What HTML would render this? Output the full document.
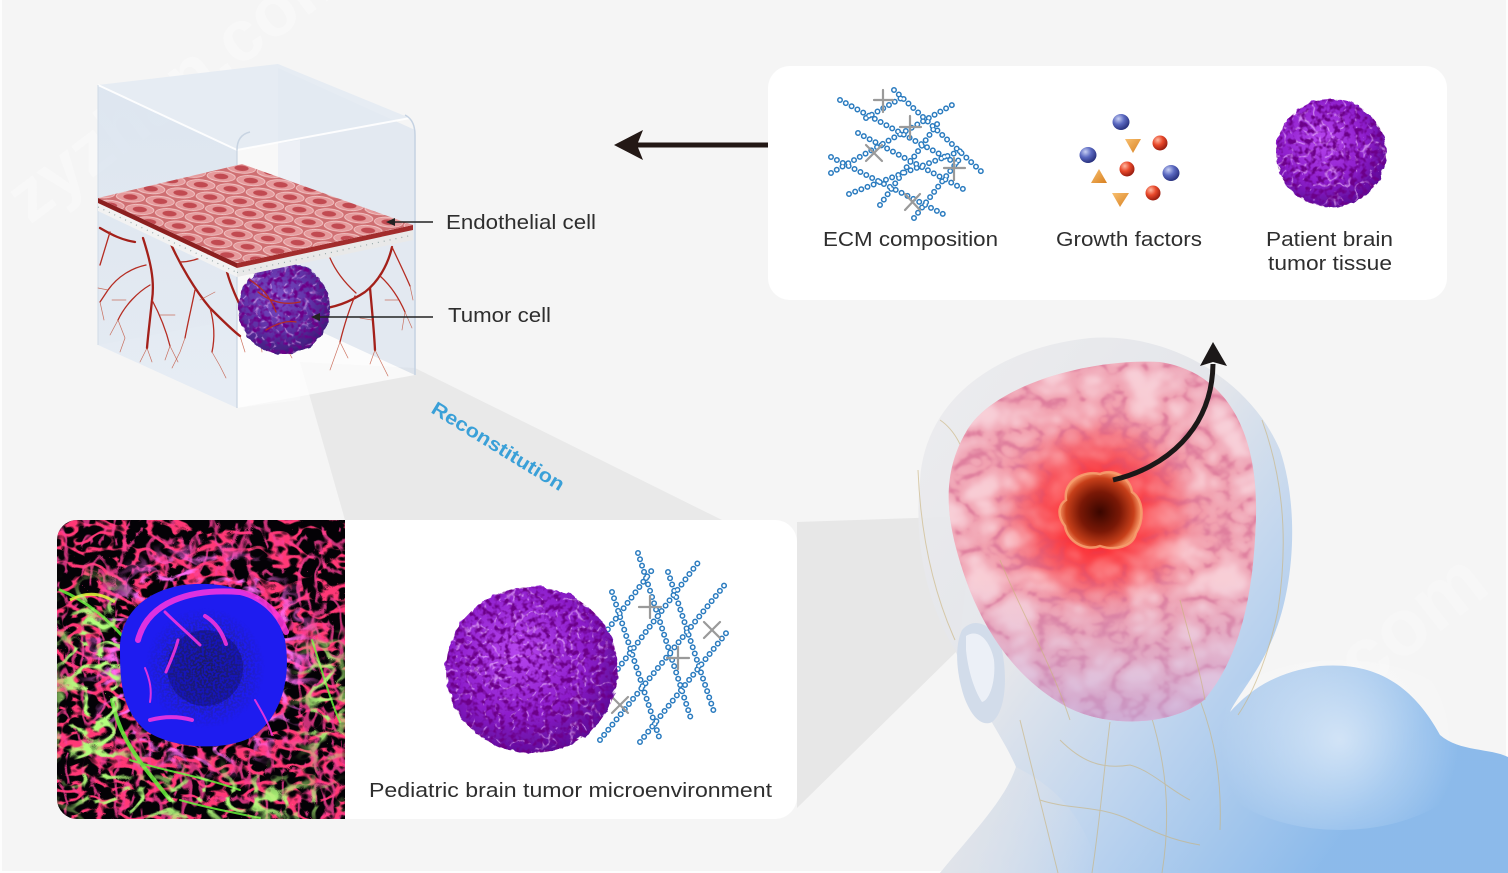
<!DOCTYPE html>
<html><head><meta charset="utf-8">
<style>
html,body{margin:0;padding:0;background:#fff;}
svg{display:block;}
.t{font-family:"Liberation Sans",Arial,sans-serif;fill:#2e2e2e;font-size:20px;}
.c1{fill:none;stroke:#2a7bbf;stroke-width:6;stroke-dasharray:0 6.6;stroke-linecap:round;}
.c2{fill:none;stroke:#fff;stroke-width:3;stroke-dasharray:0 6.6;stroke-linecap:round;}
.xl{stroke:#9a9a9a;stroke-width:2.2;stroke-linecap:round;fill:none;}
.v1{fill:none;stroke:#a3201a;stroke-width:2.3;stroke-linecap:round;}
.v2{fill:none;stroke:#b52c22;stroke-width:1.3;stroke-linecap:round;}
.v3{fill:none;stroke:#c0503a;stroke-width:.7;stroke-linecap:round;opacity:.8;}
.nv{fill:none;stroke:#c9b27a;stroke-width:1;opacity:.6;}
.gf{fill:none;stroke:#66f23a;stroke-linecap:round;}
.mg{fill:none;stroke:#ff36de;stroke-linecap:round;}
</style></head>
<body>
<svg width="1508" height="873" viewBox="0 0 1508 873" xmlns="http://www.w3.org/2000/svg">
<defs>
  <clipPath id="fclip"><path d="M77,520 H345 V819 H77 A20,20 0 0 1 57,799 V540 A20,20 0 0 1 77,520 Z"/></clipPath>
  <filter id="fRed" filterUnits="userSpaceOnUse" x="57" y="520" width="288" height="300">
    <feTurbulence type="turbulence" baseFrequency="0.04 0.06" numOctaves="2" seed="7"/>
    <feColorMatrix type="matrix" values="0 0 0 0 1  0 0 0 0 0.04  0 0 0 0 0.18  -9 0 0 0 1.8"/>
  </filter>
  <filter id="fRed2" filterUnits="userSpaceOnUse" x="57" y="520" width="288" height="300">
    <feTurbulence type="turbulence" baseFrequency="0.06 0.035" numOctaves="2" seed="17"/>
    <feColorMatrix type="matrix" values="0 0 0 0 0.95  0 0 0 0 0.05  0 0 0 0 0.3  -10 0 0 0 1.65"/>
  </filter>
  <filter id="fMag" filterUnits="userSpaceOnUse" x="57" y="520" width="288" height="300">
    <feTurbulence type="turbulence" baseFrequency="0.035 0.05" numOctaves="2" seed="13"/>
    <feColorMatrix type="matrix" values="0 0 0 0 1  0 0 0 0 0.15  0 0 0 0 0.9  -8 0 0 0 1.6"/>
  </filter>
  <filter id="fGrn" filterUnits="userSpaceOnUse" x="57" y="520" width="288" height="300">
    <feTurbulence type="turbulence" baseFrequency="0.035 0.045" numOctaves="2" seed="3"/>
    <feColorMatrix type="matrix" values="0 0 0 0 0.45  0 0 0 0 1  0 0 0 0 0.2  -9 0 0 0 1.6"/>
  </filter>
  <filter id="fSpk" filterUnits="userSpaceOnUse" x="140" y="600" width="140" height="140">
    <feTurbulence type="fractalNoise" baseFrequency="0.45" numOctaves="1" seed="4"/>
    <feColorMatrix type="matrix" values="0 0 0 0 0.02  0 0 0 0 0.02  0 0 0 0 0.15  7 0 0 0 -3"/>
  </filter>
  <filter id="blur6"><feGaussianBlur stdDeviation="12"/></filter>
  <radialGradient id="ringG" cx="201" cy="660" r="125" gradientUnits="userSpaceOnUse">
    <stop offset="0" stop-color="#000"/><stop offset="0.6" stop-color="#000"/>
    <stop offset="0.7" stop-color="#fff"/><stop offset="0.85" stop-color="#888"/><stop offset="1" stop-color="#000"/>
  </radialGradient>
  <mask id="ringM" maskUnits="userSpaceOnUse" x="57" y="520" width="288" height="300"><rect x="57" y="520" width="288" height="300" fill="url(#ringG)"/></mask>
  <mask id="grnM" maskUnits="userSpaceOnUse" x="0" y="480" width="400" height="380">
    <g filter="url(#blur6)" fill="#fff">
      <ellipse cx="95" cy="690" rx="40" ry="110"/>
      <ellipse cx="200" cy="800" rx="140" ry="25"/>
      <ellipse cx="325" cy="700" rx="22" ry="65"/>
    </g>
  </mask>
  <radialGradient id="spkG" cx="205" cy="668" r="60" gradientUnits="userSpaceOnUse">
    <stop offset="0" stop-color="#fff"/><stop offset="0.6" stop-color="#888"/><stop offset="1" stop-color="#000"/>
  </radialGradient>
  <mask id="spkM" maskUnits="userSpaceOnUse" x="140" y="600" width="140" height="140"><rect x="140" y="600" width="140" height="140" fill="url(#spkG)"/></mask>

  <radialGradient id="purp" cx="0.42" cy="0.38" r="0.65">
    <stop offset="0" stop-color="#b646ee"/><stop offset="0.6" stop-color="#8e1fcc"/><stop offset="1" stop-color="#5c0a96"/>
  </radialGradient>
  <radialGradient id="purpB" cx="0.42" cy="0.38" r="0.65">
    <stop offset="0" stop-color="#7a4cc4"/><stop offset="0.6" stop-color="#5e30a4"/><stop offset="1" stop-color="#3c1a78"/>
  </radialGradient>
  <filter id="rough" x="-10%" y="-10%" width="120%" height="120%">
    <feTurbulence type="fractalNoise" baseFrequency="0.12" numOctaves="2" seed="2" result="n"/>
    <feDisplacementMap in="SourceGraphic" in2="n" scale="7" xChannelSelector="R" yChannelSelector="G"/>
  </filter>
  <filter id="purTex" x="0" y="0" width="1" height="1">
    <feTurbulence type="turbulence" baseFrequency="0.07" numOctaves="2" seed="9"/>
    <feColorMatrix type="matrix" values="0 0 0 0 0.9  0 0 0 0 0.55  0 0 0 0 1  -9 0 0 0 1.2"/>
  </filter>
  <filter id="purDk" x="0" y="0" width="1" height="1">
    <feTurbulence type="fractalNoise" baseFrequency="0.18" numOctaves="2" seed="5"/>
    <feColorMatrix type="matrix" values="0 0 0 0 0.15  0 0 0 0 0  0 0 0 0 0.25  4 0 0 0 -1.8"/>
  </filter>
  <clipPath id="tc1"><ellipse cx="1331" cy="153" rx="55" ry="54"/></clipPath>
  <clipPath id="tc2"><ellipse cx="532" cy="670" rx="86" ry="83"/></clipPath>
  <clipPath id="tc3"><ellipse cx="284" cy="308" rx="46" ry="46"/></clipPath>

  <clipPath id="brainC"><path d="M966,432 C992,385 1090,358 1160,362 C1225,372 1258,430 1256,515 C1254,600 1238,660 1204,700 C1170,727 1102,729 1060,703 C1010,673 978,622 960,562 C944,510 944,470 966,432 Z"/></clipPath>
  <radialGradient id="brainG" cx="1098" cy="515" r="220" gradientUnits="userSpaceOnUse">
    <stop offset="0" stop-color="#ff4a50"/><stop offset="0.25" stop-color="#f4707e"/>
    <stop offset="0.5" stop-color="#f2a0ae"/><stop offset="1" stop-color="#ecb0c4"/>
  </radialGradient>
  <filter id="gyri" filterUnits="userSpaceOnUse" x="940" y="350" width="320" height="380">
    <feTurbulence type="turbulence" baseFrequency="0.024 0.03" numOctaves="3" seed="21"/>
    <feColorMatrix type="matrix" values="0 0 0 0 0.68  0 0 0 0 0.16  0 0 0 0 0.3  -8 0 0 0 1.5"/>
    <feGaussianBlur stdDeviation="0.8"/>
  </filter>
  <filter id="gyriH" filterUnits="userSpaceOnUse" x="940" y="350" width="320" height="380">
    <feTurbulence type="turbulence" baseFrequency="0.024 0.03" numOctaves="3" seed="21"/>
    <feColorMatrix type="matrix" values="0 0 0 0 1  0 0 0 0 0.93  0 0 0 0 0.94  3 0 0 0 -0.6"/>
    <feGaussianBlur stdDeviation="2"/>
  </filter>
  <radialGradient id="glow" cx="1098" cy="515" r="95" gradientUnits="userSpaceOnUse">
    <stop offset="0" stop-color="#ff0000" stop-opacity="0.95"/><stop offset="0.45" stop-color="#ff1010" stop-opacity="0.5"/>
    <stop offset="1" stop-color="#ff2020" stop-opacity="0"/>
  </radialGradient>
  <linearGradient id="brainBot" x1="0" y1="0" x2="0" y2="1">
    <stop offset="0.6" stop-color="#c8b0e0" stop-opacity="0"/><stop offset="1" stop-color="#b8a8e0" stop-opacity="0.6"/>
  </linearGradient>
  <radialGradient id="tumG" cx="1100" cy="512" r="40" gradientUnits="userSpaceOnUse">
    <stop offset="0" stop-color="#3a0600"/><stop offset="0.5" stop-color="#7a1806"/><stop offset="0.85" stop-color="#c8401a"/><stop offset="1" stop-color="#f08a5a"/>
  </radialGradient>

  <linearGradient id="headG" x1="900" y1="400" x2="1400" y2="760" gradientUnits="userSpaceOnUse">
    <stop offset="0" stop-color="#ececee"/><stop offset="0.4" stop-color="#e3e5ea"/>
    <stop offset="0.65" stop-color="#bcd3ee"/><stop offset="1" stop-color="#86b7ea"/>
  </linearGradient>
  <radialGradient id="shHi" cx="1340" cy="740" r="120" gradientUnits="userSpaceOnUse">
    <stop offset="0" stop-color="#fff" stop-opacity="0.55"/><stop offset="1" stop-color="#fff" stop-opacity="0"/>
  </radialGradient>
  <linearGradient id="neckL" x1="940" y1="0" x2="1100" y2="0" gradientUnits="userSpaceOnUse">
    <stop offset="0" stop-color="#e4e5e9"/><stop offset="1" stop-color="#e4e5e9" stop-opacity="0"/>
  </linearGradient>

  <pattern id="cells" patternUnits="userSpaceOnUse" width="30" height="22" patternTransform="translate(98,198) rotate(8) skewX(-20)">
    <rect width="30" height="22" fill="#cf6f72"/>
    <ellipse cx="15" cy="5.5" rx="14" ry="5" fill="#e59a9c" stroke="#f4caca" stroke-width="0.8"/>
    <ellipse cx="15" cy="5.5" rx="7" ry="2.8" fill="#b8363f" opacity="0.8"/>
    <ellipse cx="0" cy="16.5" rx="14" ry="5" fill="#e59a9c" stroke="#f4caca" stroke-width="0.8"/>
    <ellipse cx="30" cy="16.5" rx="14" ry="5" fill="#e59a9c" stroke="#f4caca" stroke-width="0.8"/>
    <ellipse cx="0" cy="16.5" rx="7" ry="2.8" fill="#b8363f" opacity="0.8"/>
    <ellipse cx="30" cy="16.5" rx="7" ry="2.8" fill="#b8363f" opacity="0.8"/>
  </pattern>
  <linearGradient id="glassL" x1="0" y1="0" x2="0" y2="1">
    <stop offset="0" stop-color="#d9e3ef" stop-opacity="0.85"/><stop offset="1" stop-color="#dfe7f1" stop-opacity="0.75"/>
  </linearGradient>

  <g id="ecmTop">
    <line x1="840" y1="100" x2="956" y2="163"/>
    <line x1="894" y1="90" x2="985" y2="175"/>
    <line x1="858" y1="133" x2="965" y2="190"/>
    <line x1="831" y1="157" x2="943" y2="214"/>
    <line x1="831" y1="173" x2="952" y2="105"/>
    <line x1="849" y1="194" x2="963" y2="150"/>
    <line x1="914" y1="218" x2="961" y2="157"/>
    <line x1="866" y1="118" x2="905" y2="96"/>
    <line x1="880" y1="205" x2="940" y2="120"/>
  </g>
  <g id="ecmBot">
    <line x1="638" y1="553" x2="692" y2="722"/>
    <line x1="612" y1="592" x2="660" y2="740"/>
    <line x1="668" y1="572" x2="714" y2="712"/>
    <line x1="600" y1="740" x2="727" y2="582"/>
    <line x1="640" y1="742" x2="727" y2="632"/>
    <line x1="602" y1="690" x2="700" y2="560"/>
    <line x1="600" y1="640" x2="655" y2="566"/>
  </g>
</defs>

<rect x="0" y="0" width="1508" height="873" fill="#fdfdfd"/>
<rect x="2" y="0" width="1504" height="871" fill="#f5f5f5"/>

<text x="0" y="0" transform="translate(30,225) rotate(-37)" font-family="Liberation Sans,Arial,sans-serif" font-size="72" font-weight="bold" fill="#ffffff" opacity="0.35">zyzhan.com</text>
<text x="0" y="0" transform="translate(1135,870) rotate(-38)" font-family="Liberation Sans,Arial,sans-serif" font-size="80" font-weight="bold" fill="#ffffff" opacity="0.25">zyzhan.com</text>

<polygon points="300,362 415,368 722,520 345,520" fill="#e9e9e9"/>
<polygon points="797,522 975,516 958,650 797,808" fill="#e7e7e7"/>

<!-- Cube -->
<polygon points="278,68 415,130 415,375 278,312" fill="#d4dfec" opacity="0.55"/>
<polygon points="98,345 237,408 415,375 278,312" fill="#ffffff" opacity="0.7"/>
<polygon points="98,85 237,150 237,408 98,345" fill="url(#glassL)"/>
<polygon points="237,150 300,140 300,400 237,408" fill="#ffffff" opacity="0.35"/>
<polygon points="98,85 278,64 410,118 237,150" fill="#e3eaf2" opacity="0.85"/>
<path d="M98,85 L237,150 L410,118" fill="none" stroke="#ffffff" stroke-width="2" opacity="0.9"/>
<path d="M237,150 Q237,135 250,132" fill="none" stroke="#c8d4e2" stroke-width="1.5"/>
<path d="M405,115 Q415,120 415,135 L415,375" fill="none" stroke="#c5d2e2" stroke-width="1.5"/>
<line x1="237" y1="150" x2="237" y2="408" stroke="#c8d3e0" stroke-width="1.2"/>
<line x1="98" y1="85" x2="98" y2="345" stroke="#d0dae6" stroke-width="1"/>

<g>
  <path class="v1" d="M143,238 C150,260 155,280 152,300 C150,320 148,335 147,348"/>
  <path class="v1" d="M170,242 C180,265 195,290 210,308 C222,320 232,330 240,336"/>
  <path class="v1" d="M100,228 C112,235 122,240 135,242"/>
  <path class="v1" d="M227,272 C232,290 240,305 248,322 C258,335 270,340 285,345"/>
  <path class="v1" d="M392,247 C388,265 378,282 365,292 C350,302 335,308 313,310"/>
  <path class="v1" d="M370,288 C372,310 374,330 375,350"/>
  <path class="v1" d="M300,268 C295,285 285,300 270,312"/>
  <path class="v2" d="M150,285 C138,292 125,305 118,320"/>
  <path class="v2" d="M152,300 C160,315 166,330 170,346"/>
  <path class="v2" d="M146,265 C132,268 118,276 108,290 L100,302"/>
  <path class="v2" d="M195,290 C192,305 188,322 185,338"/>
  <path class="v2" d="M210,308 C214,322 215,338 212,352"/>
  <path class="v2" d="M180,262 C192,262 202,258 212,252"/>
  <path class="v2" d="M110,232 C106,245 103,255 100,265"/>
  <path class="v2" d="M355,296 C348,312 344,326 340,342"/>
  <path class="v2" d="M380,276 C390,285 398,296 405,312"/>
  <path class="v2" d="M392,247 C398,260 404,272 410,286"/>
  <path class="v2" d="M330,258 C336,272 345,283 356,293"/>
  <path class="v3" d="M118,320 L110,335 M118,320 L125,338 M100,302 L104,320 M170,346 L165,360 M170,346 L178,362 M185,338 L180,352 M212,352 L220,366 M147,348 L140,362 M147,348 L152,362 M240,336 L245,352 M340,342 L335,356 M340,342 L348,358 M375,350 L370,364 M375,350 L382,364 M405,312 L402,330 M405,312 L412,328 M410,286 L413,300 M126,300 L112,300 M160,315 L175,315 M200,300 L215,292 M360,318 L372,320 M385,300 L398,300 M108,290 L98,288 M260,338 L262,352 M285,345 L292,358 M125,338 L120,352 M180,352 L172,368 M220,366 L226,378 M335,356 L330,370 M382,364 L388,376"/>
</g>

<g filter="url(#rough)"><ellipse cx="284" cy="308" rx="46" ry="46" fill="url(#purpB)"/></g>
<g clip-path="url(#tc3)" opacity="0.55"><rect x="236" y="260" width="96" height="96" filter="url(#purTex)"/></g>
<g clip-path="url(#tc3)"><rect x="236" y="260" width="96" height="96" filter="url(#purDk)"/></g>
<path class="v2" d="M258,292 C268,300 282,306 300,302 M266,330 C276,324 286,320 296,322 M250,280 C262,288 270,296 276,312"/>

<polygon points="98,203 237,268 237,277 98,211" fill="#f2f2f2"/>
<polygon points="237,268 413,230 413,240 237,277" fill="#e9e9e9"/>
<line x1="98" y1="207" x2="237" y2="272.5" stroke="#9aa" stroke-width="1.2" stroke-dasharray="1 5"/>
<line x1="237" y1="272.5" x2="413" y2="235" stroke="#9aa" stroke-width="1.2" stroke-dasharray="1 5"/>
<polygon points="98,198 237,263 237,268 98,203" fill="#8c1f1f"/>
<polygon points="237,263 413,225 413,230 237,268" fill="#a22c2c"/>
<polygon points="98,198 242,164 413,225 237,263" fill="url(#cells)"/>

<line x1="392" y1="222" x2="433" y2="222" stroke="#222" stroke-width="1.6"/>
<polygon points="386,222 395,218 395,226" fill="#222"/>
<line x1="318" y1="317" x2="433" y2="317" stroke="#222" stroke-width="1.6"/>
<polygon points="311,317 320,313 320,321" fill="#222"/>
<text class="t" x="446" y="229" textLength="150" lengthAdjust="spacingAndGlyphs">Endothelial cell</text>
<text class="t" x="448" y="322" textLength="103" lengthAdjust="spacingAndGlyphs">Tumor cell</text>

<text x="0" y="0" transform="translate(430,412) rotate(31.5)" font-family="Liberation Sans,Arial,sans-serif" font-size="19" font-weight="bold" fill="#3aa0d8" textLength="152" lengthAdjust="spacingAndGlyphs">Reconstitution</text>

<line x1="636" y1="145" x2="768" y2="145" stroke="#231815" stroke-width="5"/>
<polygon points="614,145 643,130 637,145 643,160" fill="#231815"/>

<!-- Top card -->
<rect x="768" y="66" width="679" height="234" rx="22" fill="#ffffff"/>
<use href="#ecmTop" class="c1"/>
<use href="#ecmTop" class="c2"/>
<g class="xl">
  <path d="M883,90 L883,112 M874,100 L893,100"/>
  <path d="M910,116 L910,138 M900,127 L921,127"/>
  <path d="M866,145 L882,161 M882,145 L866,161"/>
  <path d="M954,158 L954,180 M944,168 L965,168"/>
  <path d="M905,194 L920,210 M920,194 L905,210"/>
</g>
<defs>
  <radialGradient id="bb" cx="0.35" cy="0.3" r="0.7"><stop offset="0" stop-color="#c8d0f4"/><stop offset="0.5" stop-color="#5a68c0"/><stop offset="1" stop-color="#2a3380"/></radialGradient>
  <radialGradient id="rb" cx="0.35" cy="0.3" r="0.7"><stop offset="0" stop-color="#ffb8a0"/><stop offset="0.5" stop-color="#e8482a"/><stop offset="1" stop-color="#9a1e10"/></radialGradient>
  <linearGradient id="ob" x1="0" y1="0" x2="1" y2="1"><stop offset="0" stop-color="#f8c070"/><stop offset="1" stop-color="#d88020"/></linearGradient>
</defs>
<ellipse cx="1121" cy="122" rx="8.5" ry="8" fill="url(#bb)"/>
<ellipse cx="1088" cy="155" rx="8.5" ry="8" fill="url(#bb)"/>
<ellipse cx="1171" cy="173" rx="8.5" ry="8" fill="url(#bb)"/>
<ellipse cx="1160" cy="143" rx="7.5" ry="7.5" fill="url(#rb)"/>
<ellipse cx="1127" cy="169" rx="7.5" ry="7.5" fill="url(#rb)"/>
<ellipse cx="1153" cy="193" rx="7.5" ry="7.5" fill="url(#rb)"/>
<polygon points="1125,139 1141,139 1133,153" fill="url(#ob)"/>
<polygon points="1099,169 1091,183 1107,183" fill="url(#ob)"/>
<polygon points="1112,193 1129,193 1120,207" fill="url(#ob)"/>
<g filter="url(#rough)"><ellipse cx="1331" cy="153" rx="55" ry="54" fill="url(#purp)"/></g>
<g clip-path="url(#tc1)" opacity="0.6"><rect x="1274" y="97" width="114" height="112" filter="url(#purTex)"/></g>
<g clip-path="url(#tc1)"><rect x="1274" y="97" width="114" height="112" filter="url(#purDk)"/></g>
<text class="t" x="823" y="246" textLength="175" lengthAdjust="spacingAndGlyphs">ECM composition</text>
<text class="t" x="1056" y="246" textLength="146" lengthAdjust="spacingAndGlyphs">Growth factors</text>
<text class="t" x="1266" y="246" textLength="127" lengthAdjust="spacingAndGlyphs">Patient brain</text>
<text class="t" x="1268" y="270" textLength="124" lengthAdjust="spacingAndGlyphs">tumor tissue</text>

<!-- Bottom card -->
<rect x="57" y="520" width="740" height="299" rx="22" fill="#ffffff"/>
<g clip-path="url(#fclip)">
  <rect x="57" y="520" width="288" height="300" fill="#040206"/>
  <rect x="57" y="520" width="288" height="300" filter="url(#fRed)"/>
  <rect x="57" y="520" width="288" height="300" filter="url(#fRed2)" opacity="0.8"/>
  <rect x="57" y="520" width="288" height="300" filter="url(#fMag)" mask="url(#ringM)"/>
  <g opacity="0.85">
    <path class="gf" stroke-width="3" d="M60,590 C85,600 110,620 130,645"/>
    <path class="gf" stroke-width="4" d="M112,700 C120,740 140,762 170,800"/>
    <path class="gf" stroke-width="2" d="M130,760 C160,770 200,776 240,790"/>
    <path class="gf" stroke-width="2" d="M312,640 C322,670 330,700 340,722"/>
    <path class="gf" stroke-width="2" d="M180,800 C200,806 230,812 260,818"/>
    <path fill="none" stroke="#e6ff3a" stroke-width="3" d="M70,600 C85,592 100,592 115,602"/>
  </g>
  <rect x="57" y="520" width="288" height="300" filter="url(#fGrn)" mask="url(#grnM)"/>
  <path d="M120,652 C118,612 150,586 195,584 C240,582 275,600 285,640 C292,680 280,720 250,738 C220,752 170,748 145,730 C125,712 120,690 120,652 Z" fill="#1e1cf0"/>
  <rect x="140" y="600" width="140" height="140" filter="url(#fSpk)" mask="url(#spkM)"/>
  <circle cx="205" cy="668" r="38" fill="#05063a" opacity="0.3"/>
  <g opacity="0.85">
    <path class="mg" stroke-width="6" d="M138,640 C148,602 190,588 240,592 C262,597 278,612 286,632"/>
    <path class="mg" stroke-width="3" d="M165,612 C178,625 190,635 200,645"/>
    <path class="mg" stroke-width="4" d="M205,616 C215,622 222,632 226,644"/>
    <path class="mg" stroke-width="4" d="M150,720 C165,716 178,716 192,720"/>
    <path class="mg" stroke-width="3" d="M178,640 C175,652 170,662 166,672"/>
    <path class="mg" stroke-width="2" d="M255,700 C262,712 268,722 272,735"/>
    <path class="mg" stroke-width="2" d="M145,668 C150,680 152,690 150,702"/>
  </g>
</g>
<use href="#ecmBot" class="c1"/>
<use href="#ecmBot" class="c2"/>
<g class="xl">
  <path d="M650,596 L650,618 M639,607 L661,607"/>
  <path d="M704,622 L720,638 M720,622 L704,638"/>
  <path d="M678,647 L678,669 M667,658 L689,658"/>
  <path d="M612,697 L628,713 M628,697 L612,713"/>
</g>
<g filter="url(#rough)"><ellipse cx="532" cy="670" rx="86" ry="83" fill="url(#purp)"/></g>
<g clip-path="url(#tc2)" opacity="0.6"><rect x="444" y="585" width="176" height="170" filter="url(#purTex)"/></g>
<g clip-path="url(#tc2)"><rect x="444" y="585" width="176" height="170" filter="url(#purDk)"/></g>
<text class="t" x="369" y="797" textLength="403" lengthAdjust="spacingAndGlyphs">Pediatric brain tumor microenvironment</text>

<!-- Head -->
<path d="M920,480 C925,400 995,348 1090,338 C1170,332 1250,380 1280,450 C1300,510 1294,590 1272,640 C1257,675 1238,695 1230,712 C1250,690 1275,672 1320,666 C1370,662 1410,680 1440,735 C1460,752 1490,748 1508,757 L1508,873 L940,873 C975,830 1005,800 1016,767 C1005,740 975,700 955,650 C925,600 914,540 920,480 Z" fill="url(#headG)" opacity="0.95"/>
<path d="M940,873 C975,830 1005,800 1016,767 C1040,780 1080,800 1100,873 Z" fill="url(#neckL)" opacity="0.8"/>
<ellipse cx="1340" cy="745" rx="140" ry="85" fill="url(#shHi)"/>
<path d="M962,630 C975,615 995,625 1002,650 C1008,680 1005,712 992,722 C980,728 968,712 962,690 C956,668 955,645 962,630 Z" fill="#d2dcea"/>
<path d="M966,636 C978,628 990,640 994,660 C996,680 990,700 982,702 C974,690 968,670 966,650 Z" fill="#f2f5fa" opacity="0.8"/>
<g class="nv">
  <path d="M918,470 C920,520 928,580 955,640"/>
  <path d="M1262,420 C1280,470 1290,530 1278,610 C1270,650 1255,690 1238,715"/>
  <path d="M1020,720 C1030,760 1040,800 1058,873"/>
  <path d="M1110,722 C1104,770 1100,820 1092,873"/>
  <path d="M1150,712 C1165,760 1172,810 1162,873"/>
  <path d="M1060,740 C1080,760 1100,770 1130,765 C1150,770 1170,790 1190,800"/>
  <path d="M1040,800 C1070,810 1100,805 1130,820 C1150,830 1170,840 1200,845"/>
  <path d="M1200,700 C1215,740 1222,780 1220,830"/>
  <path d="M940,420 C955,430 965,450 968,470"/>
</g>
<g clip-path="url(#brainC)">
  <rect x="940" y="350" width="320" height="380" fill="url(#brainG)"/>
  <rect x="940" y="350" width="320" height="380" filter="url(#gyriH)" opacity="0.5"/>
  <rect x="940" y="350" width="320" height="380" filter="url(#gyri)" opacity="0.7"/>
  <circle cx="1098" cy="515" r="95" fill="url(#glow)"/>
  <rect x="940" y="350" width="320" height="380" fill="url(#brainBot)"/>
</g>
<g class="nv" opacity="0.8">
  <path d="M1000,560 C1020,610 1050,660 1070,720"/>
  <path d="M1180,600 C1190,640 1200,670 1205,700"/>
</g>
<path d="M1066,500 C1063,480 1085,470 1100,474 C1113,468 1130,477 1132,492 C1144,500 1144,520 1136,533 C1133,547 1115,551 1100,546 C1085,552 1067,541 1065,526 C1057,516 1058,505 1066,500 Z" fill="url(#tumG)" stroke="#f6a070" stroke-width="2.5" stroke-opacity="0.85"/>
<path d="M1113,480 C1165,468 1212,430 1213,364" fill="none" stroke="#1c1818" stroke-width="5"/>
<polygon points="1213,342 1200,366 1213,362 1227,366" fill="#1c1818"/>
</svg>
</body></html>
